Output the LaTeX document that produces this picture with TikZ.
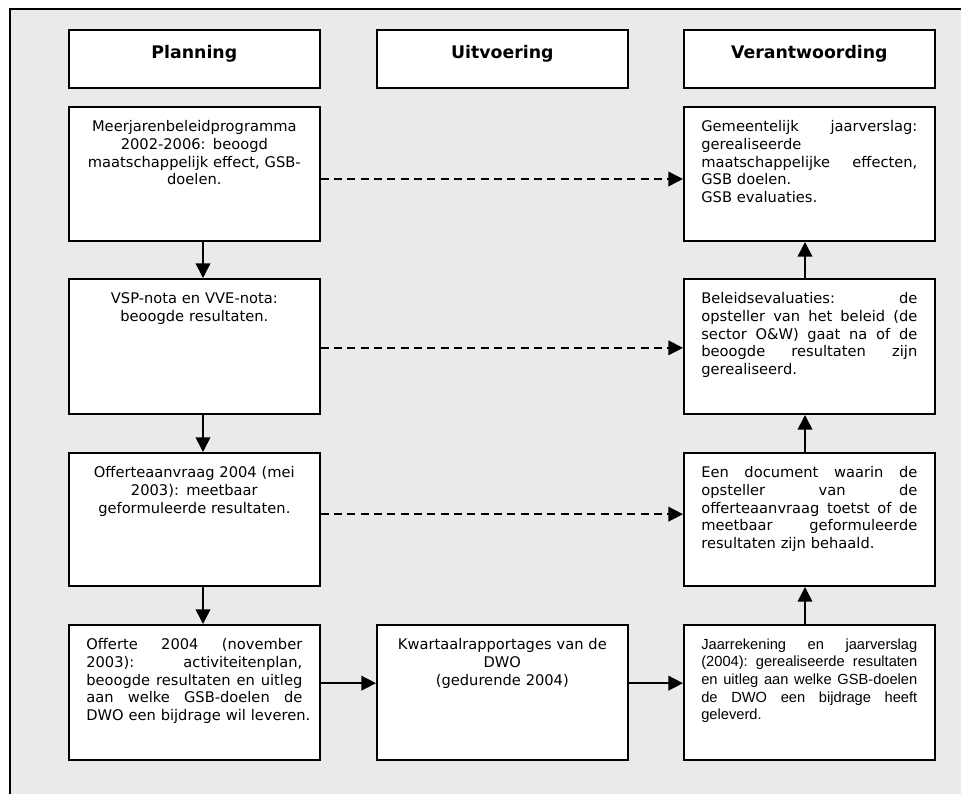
\documentclass[tikz,border=0pt]{standalone}
\usepackage{fontspec}
\setmainfont{DejaVu Sans}
\newfontfamily\arialfont{Liberation Sans}
\usepackage{tikz}
\usetikzlibrary{arrows.meta}
\definecolor{pbg}{HTML}{EAEAEA}
\newlength\txtw
\setlength\txtw{162pt}
% one justified line of a box
\newcommand{\jl}[1]{\noindent\hbox to\txtw{\frenchspacing\spaceskip=0.3em plus 1fil\relax #1}}

\begin{document}
\begin{tikzpicture}[x=0.75pt,y=-0.75pt,
    box/.style={draw,line width=1.5pt,fill=white,anchor=north west,
                minimum width=188pt,inner sep=0pt},
    head/.style={anchor=north,yshift=-11.9pt,inner sep=0pt,
                 font=\fontsize{13}{15}\selectfont\bfseries},
    txt/.style={anchor=north,yshift=-10.6pt,inner sep=0pt,text width=\txtw,
                font=\fontsize{11}{13.3}\selectfont},
    arr/.style={line width=1.2pt,-{Triangle[length=11pt,width=11pt]}},
    darr/.style={arr,dash pattern=on 6pt off 4pt}]

      \useasboundingbox (0,0) rectangle (961,794);

      % frame
      \fill[pbg] (10,9) rectangle (961,794);
      \draw[line width=1.5pt] (961,9) -- (10,9) -- (10,794);

      % column heads
      \node[box,minimum height=43.5pt,label={[head]north:Planning}] (hp) at (68,29) {};
      \node[box,minimum height=43.5pt,label={[head]north:Uitvoering}] (hu) at (376,29) {};
      \node[box,minimum height=43.5pt,label={[head]north:Verantwoording}] (hv) at (683,29) {};

      % planning column
      \node[box,minimum height=100.5pt,label={[txt,align=center]north:{%
        Meerjarenbeleidprogramma\\2002-2006: beoogd\\maatschappelijk effect, GSB-\\doelen.}}]
        (p1) at (68,106) {};
      \node[box,minimum height=101.25pt,label={[txt,align=center]north:{%
        VSP-nota en VVE-nota:\\beoogde resultaten.}}]
        (p2) at (68,278) {};
      \node[box,minimum height=99.75pt,label={[txt,align=center]north:{%
        Offerteaanvraag 2004 (mei\\2003): meetbaar\\geformuleerde resultaten.}}]
        (p3) at (68,452) {};
      \node[box,minimum height=101.25pt,label={[txt,align=left]north:{%
        \jl{Offerte 2004 (november}\\\jl{2003): activiteitenplan,}\\
        \jl{beoogde resultaten en uitleg}\\\jl{aan welke GSB-doelen de}\\
        \mbox{DWO een bijdrage wil leveren.}}}]
        (p4) at (68,624) {};

      % uitvoering column
      \node[box,minimum height=101.25pt,label={[txt,align=center]north:{%
        Kwartaalrapportages van de\\DWO\\(gedurende 2004)}}]
        (u4) at (376,624) {};

      % verantwoording column
      \node[box,minimum height=100.5pt,label={[txt,align=left]north:{%
        \jl{Gemeentelijk jaarverslag:}\\gerealiseerde\\
        \jl{maatschappelijke effecten,}\\GSB doelen.\\GSB evaluaties.}}]
        (v1) at (683,106) {};
      \node[box,minimum height=101.25pt,label={[txt,align=left]north:{%
        \jl{Beleidsevaluaties: de}\\\jl{opsteller van het beleid (de}\\
        \jl{sector O\&W) gaat na of de}\\\jl{beoogde resultaten zijn}\\
        gerealiseerd.}}]
        (v2) at (683,278) {};
      \node[box,minimum height=99.75pt,label={[txt,align=left]north:{%
        \jl{Een document waarin de}\\\jl{opsteller van de}\\
        \jl{offerteaanvraag toetst of de}\\\jl{meetbaar geformuleerde}\\
        resultaten zijn behaald.}}]
        (v3) at (683,452) {};
      \node[box,minimum height=101.25pt,label={[txt,align=left,
        font=\arialfont\fontsize{11}{13.3}\selectfont]north:{%
        \jl{Jaarrekening en jaarverslag}\\\jl{(2004): gerealiseerde resultaten}\\
        \jl{en uitleg aan welke GSB-doelen}\\\jl{de DWO een bijdrage heeft}\\
        geleverd.}}]
        (v4) at (683,624) {};

      % arrows down the planning column
      \coordinate (xl) at (203,0);
      \coordinate (xr) at (805,0);
      \draw[arr] (p1.south -| xl) -- (p2.north -| xl);
      \draw[arr] (p2.south -| xl) -- (p3.north -| xl);
      \draw[arr] (p3.south -| xl) -- (p4.north -| xl);

      % arrows up the verantwoording column
      \draw[arr] (v4.north -| xr) -- (v3.south -| xr);
      \draw[arr] (v3.north -| xr) -- (v2.south -| xr);
      \draw[arr] (v2.north -| xr) -- (v1.south -| xr);

      % dashed links
      \draw[darr] ([yshift=-3.75pt]p1.east) -- ([yshift=-3.75pt]v1.west);
      \draw[darr] ([yshift=-1pt]p2.east) -- ([yshift=-1pt]v2.west);
      \draw[darr] ([yshift=4pt]p3.east) -- ([yshift=4pt]v3.west);

      % bottom row
      \draw[arr] ([yshift=7pt]p4.east) -- ([yshift=7pt]u4.west);
      \draw[arr] ([yshift=7pt]u4.east) -- ([yshift=7pt]v4.west);

    \end{tikzpicture}
\end{document}
